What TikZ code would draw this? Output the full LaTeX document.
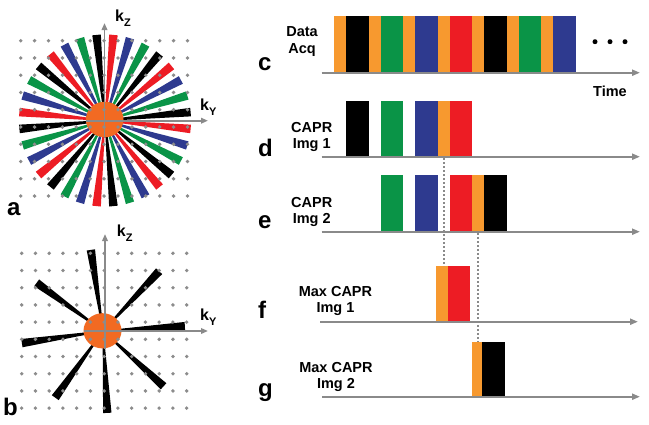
\documentclass[tikz,border=0pt]{standalone}
\usepackage{fontspec}
\setmainfont{Liberation Sans}
\usetikzlibrary{arrows.meta}
\definecolor{spkred}{HTML}{ED1C24}
\definecolor{spkblue}{HTML}{2E3A8F}
\definecolor{spkgreen}{HTML}{0A9447}
\definecolor{circor}{HTML}{F26A22}
\definecolor{barorange}{HTML}{F7992F}
\definecolor{axgray}{HTML}{8A8A8A}
\definecolor{dotgray}{HTML}{8C8C8C}
\begin{document}
\begin{tikzpicture}[x=1pt,y=-1pt,
  axis/.style={draw=axgray,line width=2pt,-{Triangle[length=8pt,width=6pt]}},
  kaxis/.style={draw=axgray,line width=1.8pt,-{Triangle[length=7pt,width=5.5pt]}},
  lbl/.style={font=\fontsize{14.5}{16.5}\selectfont\bfseries,align=center,anchor=north,inner sep=0pt},
  panel/.style={font=\fontsize{24}{24}\selectfont\bfseries,anchor=base west,inner sep=0pt},
  klbl/.style={font=\bfseries,anchor=base west,inner sep=0pt},
  griddot/.style={fill=dotgray},
  guide/.style={draw=axgray,line width=2pt,dash pattern=on 2pt off 2pt}]
\useasboundingbox (0,0) rectangle (649,424);
\fill[white] (0,0) rectangle (649,424);

% ---------- panel a ----------
\begin{scope}[shift={(105,120.5)}]
  \foreach \col [count=\i from 0] in {black,spkred,spkblue,spkgreen}
    \foreach \j in {0,...,7}
      \fill[\col,rotate={95.625-11.25*\i-45*\j}] (0,0.4) -- (86,4.3) -- (86,-4.3) -- (0,-0.4) -- cycle;
\end{scope}
\fill[circor] (104.7,119.5) ellipse [x radius=18.8, y radius=17.8];
\coordinate (ayl) at (86,120.7);
\coordinate (ayr) at (208,120.7);
\coordinate (azb) at (104.5,137.5);
\coordinate (azt) at (104.5,23);
\draw[kaxis] (ayl) -- (ayr);
\draw[kaxis] (azb) -- (azt);
\foreach \i in {0,...,12}
  \foreach \j in {0,...,9}
    \fill[griddot] ({20.7+13.9*\i},{40.7+17.26*\j}) circle (1.9);
\node[klbl] (akz) at (115,21.7) {{\fontsize{16}{16}\selectfont k}{\fontsize{11}{11}\selectfont\raisebox{-5pt}{Z}}};
\node[klbl] (aky) at (200,110) {{\fontsize{16}{16}\selectfont k}{\fontsize{11}{11}\selectfont\raisebox{-5pt}{Y}}};
\node[panel] (la) at (7,215) {a};

% ---------- panel b ----------
\begin{scope}[shift={(103,331)}]
  \foreach \a in {98.5,46.8,3.4,-42.4,-87,-125.6,-171.5,144}
    \fill[black,rotate=\a] (0,0.4) -- (82,4.2) -- (82,-4.2) -- (0,-0.4) -- cycle;
\end{scope}
\fill[circor] (102.5,330.8) ellipse [x radius=19, y radius=17.6];
\coordinate (byl) at (83.5,331);
\coordinate (byr) at (208,331);
\coordinate (bzb) at (105,348.5);
\coordinate (bzt) at (105,234);
\draw[kaxis] (byl) -- (byr);
\draw[kaxis] (bzb) -- (bzt);
\foreach \i in {0,...,12}
  \foreach \j in {0,...,9}
    \fill[griddot] ({21.7+13.75*\i},{253.3+17.2*\j}) circle (1.9);
\node[klbl] (bkz) at (116.7,236) {{\fontsize{16}{16}\selectfont k}{\fontsize{11}{11}\selectfont\raisebox{-5pt}{Z}}};
\node[klbl] (bky) at (200,320.5) {{\fontsize{16}{16}\selectfont k}{\fontsize{11}{11}\selectfont\raisebox{-5pt}{Y}}};
\node[panel] (lb) at (3,415) {b};

% ---------- panel c ----------
\foreach \k/\col in {0/black,1/spkgreen,2/spkblue,3/spkred,4/black,5/spkgreen,6/spkblue}{
  \fill[barorange] ({334+34.5*\k},16) rectangle ({346+34.5*\k},72.7);
  \fill[\col] ({346+34.5*\k},16) rectangle ({368.7+34.5*\k},72.7);
}
\coordinate (c0) at (321.7,72.7);
\coordinate (c1) at (640,72.7);
\draw[axis] (c0) -- (c1);
\foreach \x in {595,610,625} \fill[black] (\x,41.7) circle (2.5);
\node[lbl] (tc) at (302,26.7) {Data\\Acq};
\node[font=\fontsize{14.5}{16.5}\selectfont\bfseries,anchor=base west,inner sep=0pt] (time) at (593,96.7) {Time};
\node[panel] (lc) at (258,70) {c};

% ---------- panel d ----------
\fill[black]     (346,101) rectangle (368.7,156.7);
\fill[spkgreen]  (380.5,101) rectangle (403.2,156.7);
\fill[spkblue]   (415,101) rectangle (437.7,156.7);
\fill[barorange] (437.7,101) rectangle (449.5,156.7);
\fill[spkred]    (449.5,101) rectangle (472.2,156.7);
\coordinate (d0) at (321.7,156.7);
\coordinate (d1) at (640,156.7);
\draw[axis] (d0) -- (d1);
\node[lbl] (td) at (311.7,121.7) {CAPR\\Img 1};
\node[panel] (ld) at (258,156.7) {d};

% ---------- panel e ----------
\fill[spkgreen]  (380.5,175) rectangle (403.2,231.7);
\fill[spkblue]   (415,175) rectangle (437.7,231.7);
\fill[spkred]    (449.5,175) rectangle (472.2,231.7);
\fill[barorange] (472.2,175) rectangle (484,231.7);
\fill[black]     (484,175) rectangle (506.7,231.7);
\coordinate (e0) at (321.7,231.7);
\coordinate (e1) at (640,231.7);
\draw[axis] (e0) -- (e1);
\node[lbl] (te) at (311.7,196.7) {CAPR\\Img 2};
\node[panel] (le) at (258,228) {e};

% ---------- panel f ----------
\fill[barorange] (436,266) rectangle (448.3,321.7);
\fill[spkred]    (448.3,266) rectangle (470,321.7);
\coordinate (f0) at (320,321.7);
\coordinate (f1) at (638,321.7);
\draw[axis] (f0) -- (f1);
\node[lbl] (tf) at (335.5,286) {Max CAPR\\Img 1};
\node[panel] (lf) at (258,318) {f};

% ---------- panel g ----------
\fill[barorange] (471.7,341.7) rectangle (482.3,396.7);
\fill[black]     (482.3,341.7) rectangle (505,396.7);
\coordinate (g0) at (322,396.7);
\coordinate (g1) at (640,396.7);
\draw[axis] (g0) -- (g1);
\node[lbl] (tg) at (336,361.7) {Max CAPR\\Img 2};
\node[panel] (lg) at (258,396.7) {g};

% ---------- dotted guides ----------
\coordinate (v1a) at (443.5,158);
\coordinate (v1b) at (443.5,266);
\coordinate (v2a) at (478,233);
\coordinate (v2b) at (478,341.7);
\draw[guide] (v1a) -- (v1b);
\draw[guide] (v2a) -- (v2b);
\end{tikzpicture}
\end{document}
